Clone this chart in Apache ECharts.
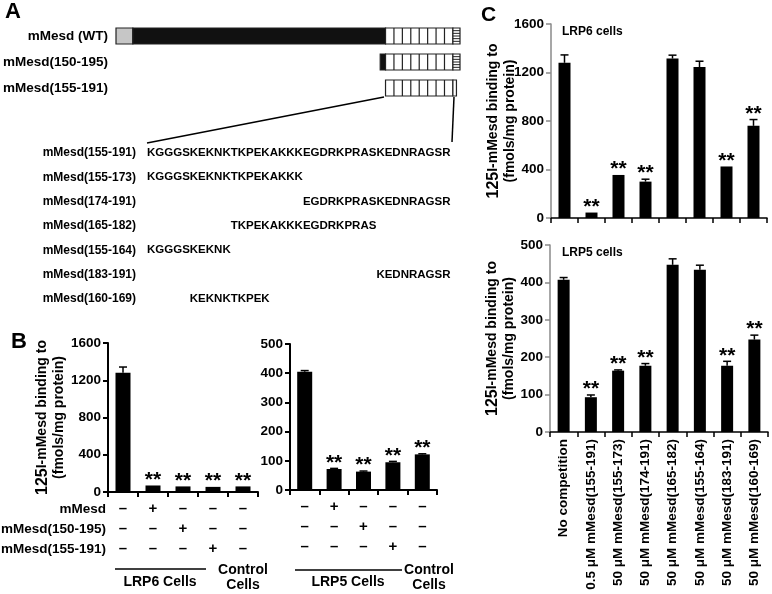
<!DOCTYPE html>
<html><head><meta charset="utf-8">
<script src="https://cdn.jsdelivr.net/npm/echarts@6/dist/echarts.min.js"></script>
<style>html,body{margin:0;padding:0;background:#fff}#c{width:772px;height:594px}</style>
</head><body><div id="c"></div>
<script>
const FONT = '"Liberation Sans", Arial, Helvetica, sans-serif';

// ---------- Panel A data ----------
const constructNames = ['mMesd (WT)', 'mMesd(150-195)', 'mMesd(155-191)'];
// [startResidue, row, endResidue, kind]
const constructSegments = [
  [1, 0, 10.5, 'signal'], [10.5, 0, 153, 'core'], [153, 0, 191, 'repeat'], [191, 0, 195, 'tail'],
  [150, 1, 153, 'core'], [153, 1, 191, 'repeat'], [191, 1, 195, 'tail'],
  [153, 2, 191, 'repeat'], [191, 2, 193, 'plain']
];
const repeatCells = 8;
const fullSeq = 'KGGGSKEKNKTKPEKAKKKEGDRKPRASKEDNRAGSR';
const seqStart = 155;
const peptideRanges = [[155,191],[155,173],[174,191],[165,182],[155,164],[183,191],[160,169]];

// ---------- Panel B data ----------
const bCats = ['c1','c2','c3','c4','c5'];
const bRowNames = ['mMesd', 'mMesd(150-195)', 'mMesd(155-191)'];
const addMesd = ['–','+','–','–','–'];
const add150  = ['–','–','+','–','–'];
const add155  = ['–','–','–','+','–'];
const bLrp6    = [1280, 70, 60, 55, 60];
const bLrp6Err = [62, 0, 0, 0, 0];
const bLrp6Sig = [0, 1, 1, 1, 1];
const bLrp5    = [405, 72, 63, 95, 122];
const bLrp5Err = [4, 2, 2, 3, 2];
const bLrp5Sig = [0, 1, 1, 1, 1];

// ---------- Panel C data ----------
const cCats = ['No competition','0.5 μM mMesd(155-191)','50 μM mMesd(155-173)','50 μM mMesd(174-191)',
               '50 μM mMesd(165-182)','50 μM mMesd(155-164)','50 μM mMesd(183-191)','50 μM mMesd(160-169)'];
const cLrp6    = [1280, 45, 355, 300, 1315, 1245, 425, 760];
const cLrp6Err = [65, 0, 0, 20, 28, 48, 0, 52];
const cLrp6Sig = [0, 1, 1, 1, 0, 0, 1, 1];
const cLrp5    = [407, 93, 164, 177, 447, 434, 177, 247];
const cLrp5Err = [6, 6, 2, 6, 16, 12, 12, 12];
const cLrp5Sig = [0, 1, 1, 1, 0, 0, 1, 1];

const yTitle = '{s|125}I-mMesd binding to\n(fmols/mg protein)';

// ---------- helpers ----------
const ctx = document.createElement('canvas').getContext('2d');
function measure(t, size){ ctx.font = 'bold ' + size + 'px ' + FONT; return ctx.measureText(t).width; }

function txt(x, y, text, size, align, vAlign){
  return {type:'text', x, y, style:{text, fill:'#000', font:'bold '+size+'px '+FONT,
    align: align||'left', verticalAlign: vAlign||'middle'}};
}
function line(x1,y1,x2,y2,w){
  return {type:'line', shape:{x1,y1,x2,y2}, style:{stroke:'#000', lineWidth:w||1.5}};
}

function errSeries(xi, vals, errs, sigs){
  return {type:'custom', xAxisIndex:xi, yAxisIndex:xi, z:5,
    data: vals.map((v,i)=>[i, v, v+errs[i], sigs[i]]),
    renderItem(params, api){
      const i=api.value(0), v=api.value(1), t=api.value(2), s=api.value(3);
      const pb=api.coord([i,v]), pt=api.coord([i,t]);
      const ch=[];
      if(t>v){
        ch.push({type:'line', shape:{x1:pb[0],y1:pb[1],x2:pt[0],y2:pt[1]}, style:{stroke:'#000',lineWidth:1.5}});
        ch.push({type:'line', shape:{x1:pt[0]-4,y1:pt[1],x2:pt[0]+4,y2:pt[1]}, style:{stroke:'#000',lineWidth:1.5}});
      }
      if(s) ch.push({type:'text', x:pt[0], y:pt[1]+5, style:{text:'**', fill:'#000',
        font:'bold 21px '+FONT, align:'center', verticalAlign:'bottom'}});
      return {type:'group', children:ch};
    }};
}

function constructRender(params, api){
  const seg = constructSegments[params.dataIndex];
  const kind = seg[3];
  const p0 = api.coord([api.value(0), api.value(1)]);
  const p1 = api.coord([api.value(2), api.value(1)]);
  const h = 16, y = p0[1]-h/2, x0 = p0[0], x1 = p1[0];
  const fill = kind==='signal' ? '#c6c6c6' : kind==='core' ? '#111' : '#fff';
  const ch = [{type:'rect', shape:{x:x0, y, width:x1-x0, height:h}, style:{fill, stroke:'#222', lineWidth:1.2}}];
  if(kind==='repeat'){
    for(let k=1;k<repeatCells;k++){
      const x = x0 + (x1-x0)*k/repeatCells;
      ch.push({type:'line', shape:{x1:x,y1:y,x2:x,y2:y+h}, style:{stroke:'#222', lineWidth:1.2}});
    }
  }
  if(kind==='tail'){
    for(let k=1;k<=5;k++){
      const yy = y + h*k/6;
      ch.push({type:'line', shape:{x1:x0,y1:yy,x2:x1,y2:yy}, style:{stroke:'#222', lineWidth:1}});
    }
  }
  return {type:'group', children:ch};
}

// ---------- graphics ----------
const g = [];
g.push(txt(5, 12, 'A', 22));
g.push(txt(11, 342, 'B', 22));
g.push(txt(481, 15, 'C', 21));
g.push(line(384, 97, 147, 143, 1.5));
g.push(line(454, 97, 452, 142, 1.5));
const seqSize = 11.5;
peptideRanges.forEach((r, k) => {
  const y = 153 + k*24.3;
  g.push(txt(136, y, 'mMesd(' + r[0] + '-' + r[1] + ')', 12, 'right'));
  const s = r[0]-seqStart, e = r[1]-seqStart+1;
  g.push(txt(147 + measure(fullSeq.slice(0, s), seqSize), y, fullSeq.slice(s, e), seqSize, 'left'));
});
bRowNames.forEach((n, k) => g.push(txt(106, 509 + k*20, n, 13.5, 'right')));
g.push(line(115, 569, 206, 569, 1.5));
g.push(txt(160, 582, 'LRP6 Cells', 14, 'center'));
g.push(txt(243, 570, 'Control', 14, 'center'));
g.push(txt(243, 585, 'Cells', 14, 'center'));
g.push(line(295, 570, 402, 570, 1.5));
g.push(txt(348, 582, 'LRP5 Cells', 14, 'center'));
g.push(txt(429, 570, 'Control', 14, 'center'));
g.push(txt(429, 585, 'Cells', 14, 'center'));
g.push(txt(562, 32, 'LRP6 cells', 12, 'left'));
g.push(txt(562, 253, 'LRP5 cells', 12, 'left'));

// ---------- axes ----------
const blk = '#000';
function yAx(grid, max, interval, opts){
  const o = Object.assign({axisColor: blk, axisWidth: 2, name: null}, opts||{});
  return {type:'value', gridIndex:grid, min:0, max, interval,
    axisLine:{show:true, lineStyle:{color:o.axisColor, width:o.axisWidth}},
    axisTick:{show:true, length:5, lineStyle:{color:o.axisColor, width:o.axisWidth}},
    splitLine:{show:false},
    axisLabel:{fontSize:13.5, fontWeight:'bold', color:'#000', margin:7, fontFamily:FONT,
      formatter:v=>String(v)},
    name:o.name, nameLocation:'middle', nameRotate:90, nameGap:o.nameGap||40, nameMoveOverlap:false,
    nameTextStyle:{fontSize:14, fontWeight:'bold', color:'#000', lineHeight:17, fontFamily:FONT,
      rich:{s:{fontSize:16, fontWeight:'bold', color:'#000', fontFamily:FONT, lineHeight:17}}}
  };
}
function xCat(grid, data, labelOpt, w){
  return {type:'category', gridIndex:grid, data,
    axisLine:{show:true, lineStyle:{color:blk, width:w||2}},
    axisTick:{show:true, length:5, interval:0, lineStyle:{color:blk, width:w||2}},
    splitLine:{show:false},
    axisLabel: labelOpt};
}

const option = {
  animation:false,
  textStyle:{fontFamily:FONT},
  grid:[
    {left:116, top:23, width:344, height:78, outerBoundsMode:'none'},
    {left:108, top:343, width:150, height:149, outerBoundsMode:'none'},
    {left:290, top:344, width:147, height:146, outerBoundsMode:'none'},
    {left:551, top:24, width:216, height:194, outerBoundsMode:'none'},
    {left:550, top:245, width:218, height:187, outerBoundsMode:'none'}
  ],
  xAxis:[
    {type:'value', gridIndex:0, min:1, max:195, show:false},
    xCat(1, bCats, {interval:0, fontSize:15, lineHeight:20, fontWeight:'bold', color:'#000', margin:7,
      formatter:(v,i)=>addMesd[i]+'\n'+add150[i]+'\n'+add155[i]}),
    xCat(2, bCats, {interval:0, fontSize:15, lineHeight:20, fontWeight:'bold', color:'#000', margin:7,
      formatter:(v,i)=>addMesd[i]+'\n'+add150[i]+'\n'+add155[i]}),
    xCat(3, cCats, {show:false}, 1.5),
    xCat(4, cCats, {interval:0, rotate:90, fontSize:13.5, fontWeight:'bold', color:'#000', margin:7, fontFamily:FONT}, 1.5)
  ],
  yAxis:[
    {type:'category', gridIndex:0, data:constructNames, inverse:true,
      axisLine:{show:false}, axisTick:{show:false}, splitLine:{show:false},
      axisLabel:{fontSize:13.5, fontWeight:'bold', color:'#000', margin:8, fontFamily:FONT}},
    yAx(1, 1600, 400, {name:yTitle, nameGap:40}),
    yAx(2, 500, 100),
    yAx(3, 1600, 400, {name:yTitle, nameGap:32, axisColor:'#8a8a8a', axisWidth:1.5}),
    yAx(4, 500, 100, {name:yTitle, nameGap:32, axisColor:'#8a8a8a', axisWidth:1.5})
  ],
  series:[
    {type:'custom', xAxisIndex:0, yAxisIndex:0, data:constructSegments.map(s=>[s[0], s[1], s[2]]),
      renderItem:constructRender},
    {type:'bar', xAxisIndex:1, yAxisIndex:1, data:bLrp6, barWidth:15, itemStyle:{color:'#000'}},
    errSeries(1, bLrp6, bLrp6Err, bLrp6Sig),
    {type:'bar', xAxisIndex:2, yAxisIndex:2, data:bLrp5, barWidth:15, itemStyle:{color:'#000'}},
    errSeries(2, bLrp5, bLrp5Err, bLrp5Sig),
    {type:'bar', xAxisIndex:3, yAxisIndex:3, data:cLrp6, barWidth:12, itemStyle:{color:'#000'}},
    errSeries(3, cLrp6, cLrp6Err, cLrp6Sig),
    {type:'bar', xAxisIndex:4, yAxisIndex:4, data:cLrp5, barWidth:12, itemStyle:{color:'#000'}},
    errSeries(4, cLrp5, cLrp5Err, cLrp5Sig)
  ],
  graphic: g
};
const chart = echarts.init(document.getElementById('c'), null, {renderer:'canvas'});
chart.setOption(option);
</script></body></html>
